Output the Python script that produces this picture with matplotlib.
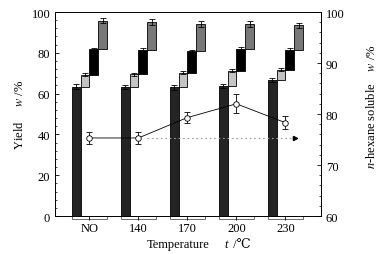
import numpy as np
import matplotlib
matplotlib.use('Agg')
import matplotlib.pyplot as plt
from matplotlib.patches import Rectangle
from matplotlib.ticker import MultipleLocator

plt.rcParams['font.family'] = ['Liberation Serif', 'DejaVu Serif']
plt.rcParams['mathtext.fontset'] = 'stix'
plt.rcParams['font.size'] = 9

# 数据
groups = ['NO', '140', '170', '200', '230']
dark_top = [63.4, 63.4, 63.1, 63.9, 66.5]
light_top = [69.3, 69.5, 70.3, 71.3, 71.8]
black_top = [81.9, 81.2, 81.0, 81.9, 81.4]
gray_top = [95.8, 95.2, 94.2, 94.1, 93.4]
dark_err = [1.2, 1.0, 1.1, 1.0, 1.0]
light_err = [0.7, 0.8, 0.8, 0.8, 0.8]
black_err = [0.6, 1.3, 0.6, 0.8, 1.2]
gray_err = [1.3, 1.6, 1.4, 1.4, 1.3]
soluble = [75.3, 75.3, 79.3, 82.0, 78.3]
soluble_err = [1.1, 1.1, 1.0, 1.9, 1.3]

x = np.arange(len(groups))
w = 0.18

fig = plt.figure(figsize=(3.8, 2.55), dpi=100)
ax = fig.add_axes([0.145, 0.149, 0.70, 0.80])

tops = [dark_top, light_top, black_top, gray_top]
errs = [dark_err, light_err, black_err, gray_err]
colors = ['#242424', '#c4c4c4', '#000000', '#787878']
bottom = np.zeros(len(groups))
for k in range(4):
    top = np.array(tops[k])
    ax.bar(x + (k - 1.5) * w, top - bottom, w, bottom=bottom, color=colors[k],
           edgecolor='black', linewidth=0.6, zorder=2)
    ax.errorbar(x + (k - 1.5) * w, top, yerr=errs[k], fmt='none', ecolor='black',
                elinewidth=0.6, capsize=2, capthick=0.6, zorder=3)
    bottom = top

# 组下方括线
for xi in x:
    ax.add_patch(Rectangle((xi - 2 * w, -0.013), 4 * w, 0.013, transform=ax.get_xaxis_transform(),
                           facecolor='white', edgecolor='#555555', linewidth=0.6, clip_on=False))

ax.set_xlim(-0.70, 4.73)
ax.set_ylim(0, 100)
ax.set_xticks(x)
ax.set_xticklabels(groups)
ax.tick_params(axis='x', direction='out', length=3, width=0.6, pad=1.5)
ax.tick_params(axis='y', direction='in', length=3, width=0.6, right=False)
ax.tick_params(axis='y', which='minor', direction='in', length=1.5, width=0.5)
ax.yaxis.set_major_locator(MultipleLocator(20))
ax.yaxis.set_minor_locator(MultipleLocator(4))
for s in ax.spines.values():
    s.set_linewidth(0.6)
ax.set_ylabel('Yield     $w$ /%', labelpad=4)

# x轴标题（分段写，保证℃能显示）
ax.text(0.464, -0.135, 'Temperature', transform=ax.transAxes, ha='center', va='center')
ax.text(0.638, -0.135, 't', transform=ax.transAxes, ha='left', va='center', style='italic')
ax.text(0.656, -0.135, ' /℃', transform=ax.transAxes, ha='left', va='center')

ax2 = ax.twinx()
ax2.set_ylim(60, 100)
ax2.errorbar(x, soluble, yerr=soluble_err, fmt='-o', color='black', lw=0.6,
             ms=4, mfc='white', mec='black', mew=0.6, elinewidth=0.6, capsize=2,
             capthick=0.6, zorder=4)
# 指向右轴的虚线箭头
ax2.plot([1.17, 4.2], [soluble[0], soluble[0]], ls=(0, (1.5, 2.5)), color='#999999', lw=0.8)
ax2.plot([4.2], [soluble[0]], marker='>', color='black', ms=3)
ax2.yaxis.set_major_locator(MultipleLocator(10))
ax2.yaxis.set_minor_locator(MultipleLocator(2))
ax2.tick_params(axis='y', direction='in', length=3, width=0.6)
ax2.tick_params(axis='y', which='minor', direction='in', length=1.5, width=0.5)
for s in ax2.spines.values():
    s.set_linewidth(0.6)
ax2.set_ylabel('$n$-hexane soluble    $w$ /%')
ax2.yaxis.set_label_coords(1.165, 0.54)

fig.savefig('out.png', dpi=100)
